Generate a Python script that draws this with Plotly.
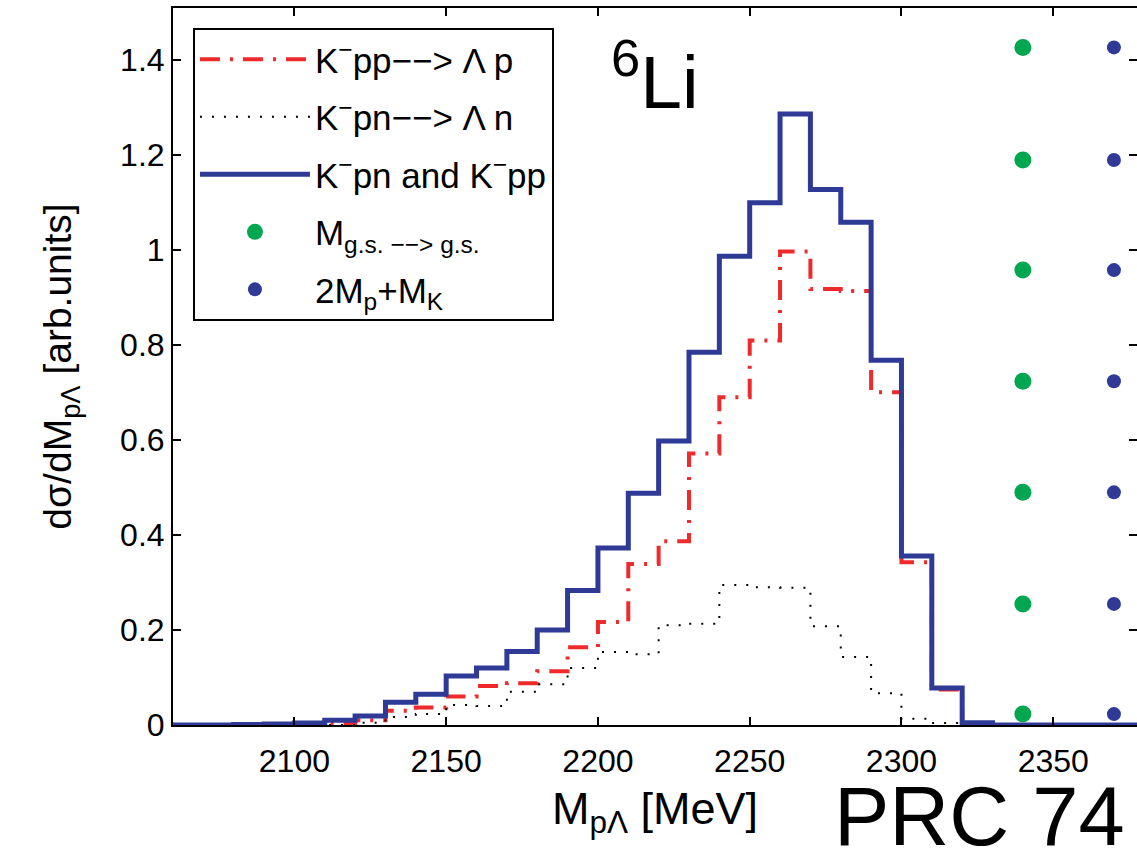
import plotly.graph_objects as go

# ---- data ----
bin_left = list(range(2060, 2380, 10))  # 10 MeV bins, left edges
blue_vals = [0.0, 0.0, 0.001, 0.002, 0.004, 0.010, 0.019, 0.048, 0.065, 0.103,
             0.120, 0.155, 0.200, 0.283, 0.373, 0.488, 0.598, 0.785, 0.987, 1.100,
             1.287, 1.128, 1.059, 0.768, 0.356, 0.078, 0.005, 0.0, 0.0, 0.0, 0.0, 0.0]
red_vals = [0.0, 0.0, 0.0, 0.0, 0.001, 0.003, 0.010, 0.030, 0.037, 0.060,
            0.082, 0.088, 0.113, 0.164, 0.217, 0.339, 0.387, 0.572, 0.690, 0.810,
            0.997, 0.918, 0.914, 0.701, 0.343, 0.075, 0.003, 0.0, 0.0, 0.0, 0.0, 0.0]
black_vals = [0.0, 0.0, 0.0, 0.0, 0.0, 0.0, 0.005, 0.017, 0.023, 0.042,
              0.040, 0.070, 0.086, 0.120, 0.154, 0.149, 0.210, 0.213, 0.295, 0.290,
              0.289, 0.208, 0.143, 0.067, 0.013, 0.004, 0.0, 0.0, 0.0, 0.0, 0.0, 0.0]
marker_y = [0.023, 0.255, 0.490, 0.724, 0.958, 1.190, 1.427]
m_gs_x = 2340
m_thr_x = 2370

x_ticks = [2100, 2150, 2200, 2250, 2300, 2350]
y_ticks = [0, 0.2, 0.4, 0.6, 0.8, 1.0, 1.2, 1.4]
y_tick_text = ["0", "0.2", "0.4", "0.6", "0.8", "1", "1.2", "1.4"]

FONT = "Liberation Sans, Arial, Helvetica, sans-serif"
BLUE = "#2f3a96"
RED = "#ee2a2a"
GREEN = "#00a650"


def steps(edges, vals):
    xs = list(edges) + [edges[-1] + 10]
    ys = list(vals) + [vals[-1]]
    return xs, ys


fig = go.Figure()
xr, yr = steps(bin_left, red_vals)
fig.add_trace(go.Scatter(x=xr, y=yr, mode="lines", line_shape="hv", legendgroup="a",
                         line=dict(color=RED, width=4, dash="20px,10px,3px,10px"),
                         name="K<sup>−</sup>pp−−> Λ p"))
xb, yb = steps(bin_left, black_vals)
fig.add_trace(go.Scatter(x=xb, y=yb, mode="lines", line_shape="hv", legendgroup="b",
                         line=dict(color="black", width=2, dash="2px,10px"),
                         name="K<sup>−</sup>pn−−> Λ n"))
xu, yu = steps(bin_left, blue_vals)
fig.add_trace(go.Scatter(x=xu, y=yu, mode="lines", line_shape="hv", legendgroup="c",
                         line=dict(color=BLUE, width=5),
                         name="K<sup>−</sup>pn and K<sup>−</sup>pp"))
fig.add_trace(go.Scatter(x=[m_gs_x] * len(marker_y), y=marker_y, mode="markers",
                         legendgroup="d", marker=dict(color=GREEN, size=17),
                         name="M<sub>g.s. −−> g.s.</sub>"))
fig.add_trace(go.Scatter(x=[m_thr_x] * len(marker_y), y=marker_y, mode="markers",
                         legendgroup="e", marker=dict(color=BLUE, size=14),
                         name="2M<sub>p</sub>+M<sub>K</sub>"))
# invisible trace for right-side mirrored ticks
fig.add_trace(go.Scatter(x=[None], y=[None], yaxis="y2", showlegend=False))

fig.update_layout(
    width=1137, height=857,
    margin=dict(l=173, r=0, t=8, b=132),
    paper_bgcolor="white", plot_bgcolor="white",
    font=dict(family=FONT, size=33, color="black"),
    xaxis=dict(range=[2060, 2377.6], tickvals=x_ticks, ticks="inside", ticklen=8,
               tickwidth=1.5, tickcolor="black", showline=True, linecolor="black",
               linewidth=2, mirror="ticks", showgrid=False, zeroline=False,
               tickfont=dict(size=32), ticklabelstandoff=7,
               title=dict(text="M<sub>pΛ</sub> [MeV]", font=dict(size=45), standoff=14)),
    yaxis=dict(range=[0, 1.51], tickvals=y_ticks, ticktext=y_tick_text,
               ticks="inside", ticklen=8, tickwidth=1.5, tickcolor="black",
               showline=True, linecolor="black", linewidth=2, mirror=False,
               showgrid=False, zeroline=False, tickfont=dict(size=32),
               title=dict(text="dσ/dM<sub>pΛ</sub> [arb.units]", font=dict(size=39),
                          standoff=36)),
    yaxis2=dict(overlaying="y", side="right", matches="y", tickvals=y_ticks,
                ticks="inside", ticklen=8, tickwidth=1.5, tickcolor="black",
                showticklabels=False, showline=False, showgrid=False, zeroline=False),
    legend=dict(x=0.0207, y=0.972, xanchor="left", yanchor="top",
                bordercolor="black", borderwidth=2, bgcolor="white",
                font=dict(size=35), itemwidth=110, tracegroupgap=9),
    annotations=[
        dict(text="<sup>6</sup>Li", xref="paper", yref="paper", x=0.452, y=0.905,
             xanchor="left", yanchor="middle", showarrow=False,
             font=dict(size=75)),
        dict(text="PRC 74", xref="paper", yref="paper", x=0.99, y=-0.128,
             xanchor="right", yanchor="middle", showarrow=False,
             font=dict(size=83)),
    ],
)

fig.write_html("out.html")
